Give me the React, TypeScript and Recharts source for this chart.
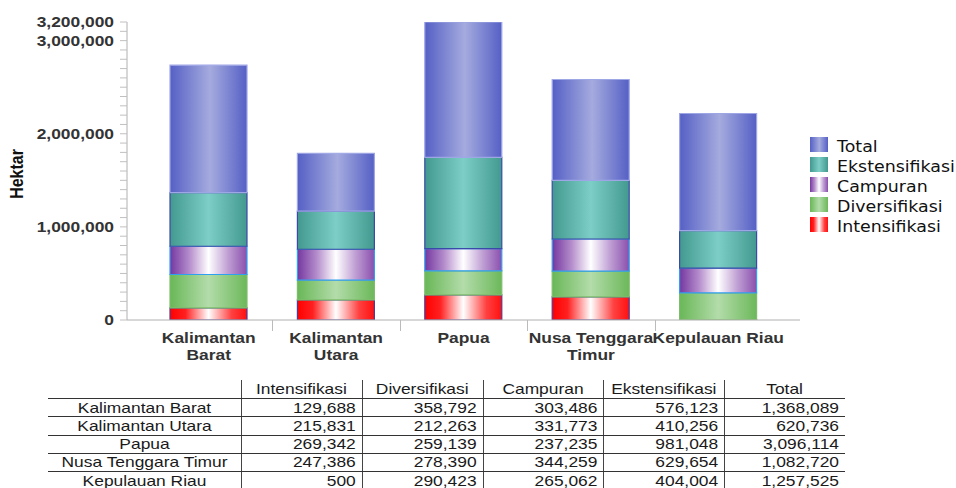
import React from 'react';
import { BarChart, Bar, XAxis, YAxis, Legend } from 'recharts';

// ---------- data ----------
const categories = ['Kalimantan Barat', 'Kalimantan Utara', 'Papua', 'Nusa Tenggara Timur', 'Kepulauan Riau'];
const categoryTickLines = [['Kalimantan', 'Barat'], ['Kalimantan', 'Utara'], ['Papua'], ['Nusa Tenggara', 'Timur'], ['Kepulauan Riau']];
const intensifikasi = [129688, 215831, 269342, 247386, 500];
const diversifikasi = [358792, 212263, 259139, 278390, 290423];
const campuran = [303486, 331773, 237235, 344259, 265062];
const ekstensifikasi = [576123, 410256, 981048, 629654, 404004];
const total = [1368089, 620736, 3096114, 1082720, 1257525];
const yLabelTicks = [0, 1000000, 2000000, 3000000, 3200000];
const yMax = 3200000;
const yMinorStep = 100000;

const seriesNames = ['Intensifikasi', 'Diversifikasi', 'Campuran', 'Ekstensifikasi', 'Total'];
const seriesValues = [intensifikasi, diversifikasi, campuran, ekstensifikasi, total];

// ---------- styles ----------
const seriesStyle: Record<string, { stops: [number, string][]; stroke: string }> = {
  Intensifikasi: { stops: [[0, '#ff0000'], [0.2, '#ff2020'], [0.5, '#ffffff'], [0.8, '#ff4040'], [1, '#ff1010']], stroke: '#4b3c9a' },
  Diversifikasi: { stops: [[0, '#69b757'], [0.5, '#b3dcaa'], [1, '#6cb85a']], stroke: '#7dbd6c' },
  Campuran: { stops: [[0, '#7437a0'], [0.25, '#b48ccb'], [0.5, '#ffffff'], [0.75, '#c0a0d4'], [1, '#8a4fad']], stroke: '#2f9ff0' },
  Ekstensifikasi: { stops: [[0, '#43998f'], [0.5, '#7ccec6'], [1, '#43998f']], stroke: '#3b4aa8' },
  Total: { stops: [[0, '#5560c5'], [0.52, '#a5abde'], [1, '#5560c5']], stroke: '#9fa6e6' },
};

const S = 1.16; // horizontal text stretch
const FONT = '"Liberation Sans", Arial, sans-serif';
const CHART_W = 956;
const CHART_H = 370;
const Y_AXIS_W = 127;
const PLOT_RIGHT = 800;
const X_PAD = 18;
const BAND = (PLOT_RIGHT - Y_AXIS_W - 2 * X_PAD) / categories.length;

const data = categories.map((c, i) => {
  const row: Record<string, any> = { name: c };
  seriesNames.forEach((s, k) => { row[s] = seriesValues[k][i]; });
  return row;
});

const yTicks: number[] = [];
for (let v = 0; v <= yMax; v += yMinorStep) yTicks.push(v);

const fmt = (v: number) => v.toLocaleString('en-US');

const YTick = (props: any) => {
  const { x, y, payload } = props;
  if (!yLabelTicks.includes(payload.value)) return <g />;
  return (
    <g transform={`translate(${x},${y}) scale(${S},1)`}>
      <text x={0} y={0} dy="0.36em" textAnchor="end" fontFamily={FONT} fontWeight="bold" fontSize={15} fill="#333">
        {fmt(payload.value)}
      </text>
    </g>
  );
};

const XTick = (props: any) => {
  const { x, y, index } = props;
  const lines = categoryTickLines[index] || [];
  const bx = Math.round(x - BAND / 2) + 0.5;
  return (
    <g>
      {index > 0 && <line x1={bx} x2={bx} y1={y} y2={y + 11} stroke="#bbb" strokeWidth={1} />}
      {lines.map((l, i) => (
        <g key={i} transform={`translate(${x},${y + 23 + i * 16.5}) scale(${S},1)`}>
          <text x={0} y={0} textAnchor="middle" fontFamily={FONT} fontWeight="bold" fontSize={15} fill="#333">
            {l}
          </text>
        </g>
      ))}
    </g>
  );
};

const cssGradient = (name: string) =>
  `linear-gradient(to right, ${seriesStyle[name].stops.map(([o, c]) => `${c} ${o * 100}%`).join(', ')})`;

const LegendContent = () => (
  <div style={{ display: 'flex', flexDirection: 'column' }}>
    {[...seriesNames].reverse().map((n) => (
      <div key={n} style={{ display: 'flex', alignItems: 'flex-start', height: 20, lineHeight: '20px' }}>
        <div style={{ width: 18, height: 15, background: cssGradient(n), flex: 'none' }} />
        <div
          style={{
            marginLeft: 9,
            fontFamily: '"DejaVu Sans", Verdana, sans-serif',
            fontSize: 15,
            color: '#111',
            transform: `scaleX(${S})`,
            transformOrigin: 'left center',
            whiteSpace: 'nowrap',
          }}
        >
          {n}
        </div>
      </div>
    ))}
  </div>
);

const HektarLabel = (props: any) => {
  const vb = props.viewBox || {};
  const cy = (vb.y || 22) + (vb.height || 298) / 2 + 3;
  return (
    <g transform={`translate(23,${cy}) scale(${S},1) rotate(-90)`}>
      <text x={0} y={0} textAnchor="middle" fontFamily={FONT} fontWeight="bold" fontSize={16} fill="#111">
        Hektar
      </text>
    </g>
  );
};

// ---------- table ----------
const tableHeaders = ['Intensifikasi', 'Diversifikasi', 'Campuran', 'Ekstensifikasi', 'Total'];
const TABLE_LEFT = 48;
const FIRST_COL_W = 193;
const COL_W = 120.8;
const HEADER_CY = 389;
const ROW_H = 18.3;
const FIRST_ROW_CY = 407.2;

const Table = () => {
  const colLefts = tableHeaders.map((_, i) => TABLE_LEFT + FIRST_COL_W + i * COL_W);
  const right = TABLE_LEFT + FIRST_COL_W + tableHeaders.length * COL_W;
  const textProps = { fontFamily: FONT, fontSize: 15, fill: '#1a1a1a' };
  const T = (x: number, cy: number, anchor: string, s: string, key: string) => (
    <g key={key} transform={`translate(${x},${cy + 5.3}) scale(${S},1)`}>
      <text x={0} y={0} textAnchor={anchor as any} {...textProps}>{s}</text>
    </g>
  );
  return (
    <svg width={956} height={488} style={{ position: 'absolute', left: 0, top: 0, pointerEvents: 'none' }}>
      {colLefts.map((x, i) => (
        <line key={'v' + i} x1={Math.round(x) + 0.5} x2={Math.round(x) + 0.5} y1={380} y2={488} stroke="#444" />
      ))}
      {categories.map((_, r) => {
        const y = Math.round(FIRST_ROW_CY - ROW_H / 2 + r * ROW_H) + 0.5;
        return <line key={'h' + r} x1={TABLE_LEFT} x2={right} y1={y} y2={y} stroke="#333" />;
      })}
      {tableHeaders.map((h, i) => T(colLefts[i] + COL_W / 2, HEADER_CY, 'middle', h, 'th' + i))}
      {categories.map((c, r) => {
        const cy = FIRST_ROW_CY + r * ROW_H;
        const row = [T(TABLE_LEFT + FIRST_COL_W / 2, cy, 'middle', c, 'rl' + r)];
        seriesNames.forEach((s, k) => {
          row.push(T(colLefts[k] + COL_W - 6, cy, 'end', fmt(seriesValues[k][r]), 'c' + r + '-' + k));
        });
        return row;
      })}
    </svg>
  );
};

export default function App() {
  return (
    <div style={{ position: 'absolute', left: 0, top: 0, width: 956, height: 488, background: '#fff', overflow: 'hidden' }}>
      <BarChart
        width={CHART_W}
        height={CHART_H}
        data={data}
        margin={{ top: 22, right: CHART_W - PLOT_RIGHT, bottom: 0, left: 0 }}
        barSize={77}
      >
        <defs>
          {seriesNames.map((n) => (
            <linearGradient key={n} id={'grad-' + n} x1="0" y1="0" x2="1" y2="0">
              {seriesStyle[n].stops.map(([o, c], i) => (
                <stop key={i} offset={o} stopColor={c} />
              ))}
            </linearGradient>
          ))}
        </defs>
        <XAxis
          dataKey="name"
          interval={0}
          height={50}
          padding={{ left: X_PAD, right: X_PAD }}
          tickLine={false}
          tickSize={0}
          tickMargin={0}
          tick={<XTick />}
          axisLine={{ stroke: '#b0b0b0' }}
        />
        <YAxis
          width={Y_AXIS_W}
          domain={[0, yMax]}
          ticks={yTicks}
          interval={0}
          allowDataOverflow
          tickSize={7}
          tickMargin={6}
          tickLine={{ stroke: '#c0c0c0' }}
          axisLine={{ stroke: '#b0b0b0' }}
          tick={<YTick />}
          label={<HektarLabel />}
        />
        <Legend
          layout="vertical"
          align="center"
          verticalAlign="middle"
          content={<LegendContent />}
          wrapperStyle={{ left: 810, top: 137, width: 146 }}
        />
        {seriesNames.map((n) => (
          <Bar
            key={n}
            dataKey={n}
            name={n}
            stackId="a"
            fill={`url(#grad-${n})`}
            stroke={seriesStyle[n].stroke}
            strokeWidth={1.2}
            isAnimationActive={false}
          />
        ))}
      </BarChart>
      <Table />
    </div>
  );
}
